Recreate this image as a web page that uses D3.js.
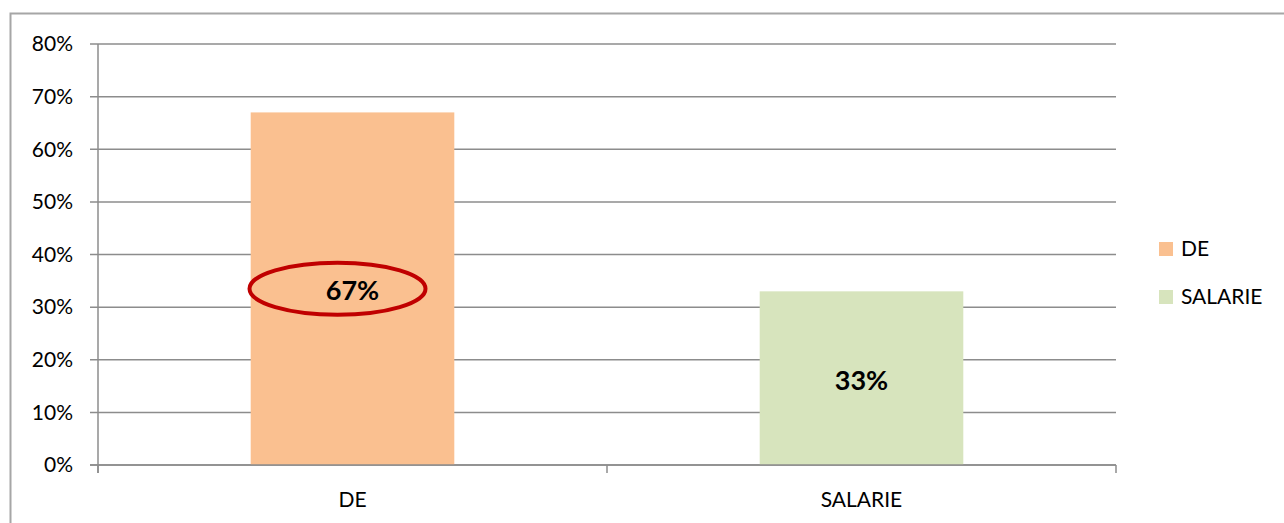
<!DOCTYPE html>
<html>
<head>
<meta charset="utf-8">
<script src="https://cdn.jsdelivr.net/npm/d3@7"></script>
<style>
  body { margin: 0; background: #fff; }
  svg text { font-family: Lato, "Open Sans", sans-serif; fill: #000; }
</style>
</head>
<body>
<div id="chart"></div>
<script>
const categories = ["DE", "SALARIE"];
const values = [0.67, 0.33];
const colors = ["#FAC090", "#D7E4BD"];
const yTicks = [0, 0.1, 0.2, 0.3, 0.4, 0.5, 0.6, 0.7, 0.8];

const width = 1284, height = 523;
const svg = d3.select("#chart").append("svg")
  .attr("width", width).attr("height", height);

// outer chart frame (runs off right/bottom edges)
svg.append("rect")
  .attr("x", 10.5).attr("y", 13.5)
  .attr("width", 1290).attr("height", 520)
  .attr("fill", "none").attr("stroke", "#A6A6A6").attr("stroke-width", 2);

const x = d3.scaleBand().domain(categories).range([98, 1116])
  .paddingInner(0.6).paddingOuter(0.3);
const xCat = d3.scaleBand().domain(categories).range([98, 1116]);
const y = d3.scaleLinear().domain([0, 0.8]).range([465, 44]);

// gridlines
svg.append("g").selectAll("line").data(yTicks).join("line")
  .attr("x1", 90).attr("x2", 1116)
  .attr("y1", d => y(d)).attr("y2", d => y(d))
  .attr("stroke", "#8C8C8C").attr("stroke-width", 1.5);

// y axis
svg.append("line").attr("x1", 98).attr("x2", 98).attr("y1", 44).attr("y2", 473)
  .attr("stroke", "#8C8C8C").attr("stroke-width", 1.5);

svg.append("g").selectAll("text").data(yTicks).join("text")
  .attr("x", 73).attr("y", d => y(d)).attr("dy", "0.35em")
  .attr("text-anchor", "end").attr("font-size", 21)
  .text(d => d3.format(".0%")(d));

// bars
svg.append("g").selectAll("rect").data(categories).join("rect")
  .attr("x", d => x(d)).attr("width", x.bandwidth())
  .attr("y", (d, i) => y(values[i]))
  .attr("height", (d, i) => y(0) - y(values[i]))
  .attr("fill", (d, i) => colors[i]);

// baseline on top of bars
svg.append("line").attr("x1", 90).attr("x2", 1116).attr("y1", y(0)).attr("y2", y(0))
  .attr("stroke", "#8C8C8C").attr("stroke-width", 1.5);

// category ticks
const catEdges = [98, ...categories.map(c => xCat(c) + xCat.bandwidth())];
svg.append("g").selectAll("line").data(catEdges).join("line")
  .attr("x1", d => d).attr("x2", d => d).attr("y1", y(0)).attr("y2", 473)
  .attr("stroke", "#8C8C8C").attr("stroke-width", 1.5);

// category labels
svg.append("g").selectAll("text").data(categories).join("text")
  .attr("x", d => x(d) + x.bandwidth() / 2).attr("y", 500).attr("dy", "0.35em")
  .attr("text-anchor", "middle").attr("font-size", 21)
  .text(d => d);

// value labels
svg.append("g").selectAll("text").data(categories).join("text")
  .attr("x", d => x(d) + x.bandwidth() / 2)
  .attr("y", (d, i) => y(values[i] / 2) + 2).attr("dy", "0.35em")
  .attr("text-anchor", "middle").attr("font-size", 27).attr("font-weight", "bold")
  .text((d, i) => d3.format(".0%")(values[i]));

// red highlight ellipse
svg.append("ellipse")
  .attr("cx", x("DE") + x.bandwidth() / 2 - 15).attr("cy", y(values[0] / 2) - 0)
  .attr("rx", 88).attr("ry", 26)
  .attr("fill", "none").attr("stroke", "#C00000").attr("stroke-width", 4);

// legend
const legend = svg.append("g").selectAll("g").data(categories).join("g")
  .attr("transform", (d, i) => `translate(1159, ${242 + i * 48})`);
legend.append("rect").attr("width", 14).attr("height", 14)
  .attr("fill", (d, i) => colors[i]);
legend.append("text").attr("x", 22).attr("y", 7).attr("dy", "0.35em")
  .attr("font-size", 21).text(d => d);
</script>
</body>
</html>
